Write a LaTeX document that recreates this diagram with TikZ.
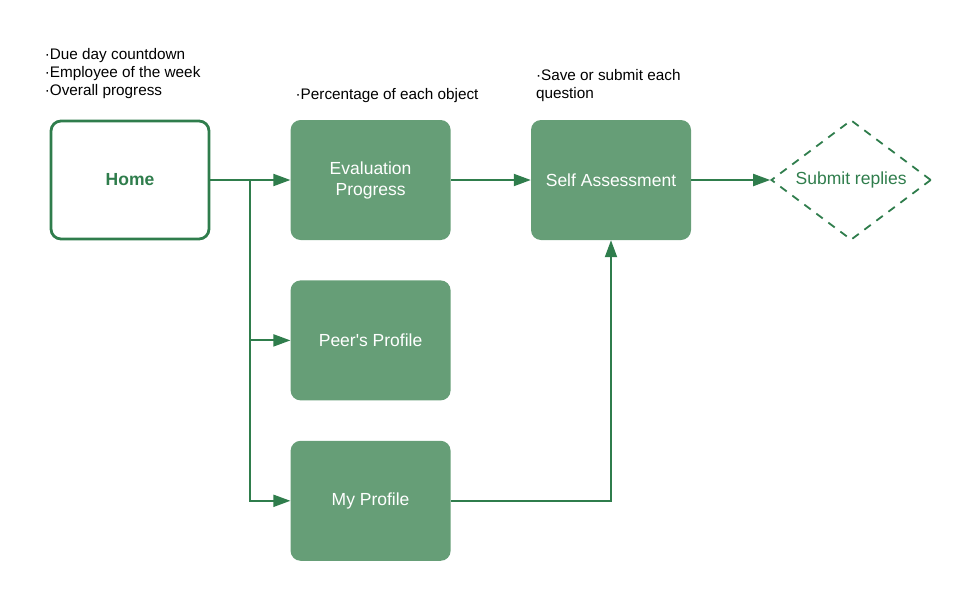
\documentclass[tikz,border=0pt]{standalone}
\usepackage{fontspec}
\setmainfont{Liberation Sans}
\usetikzlibrary{arrows.meta,positioning,shapes.geometric}

\definecolor{boxgreen}{HTML}{669E77}
\definecolor{linegreen}{HTML}{2F7D4C}

\tikzset{
  page/.style={box, fill=boxgreen, text=white},
  box/.style={rectangle, rounded corners=10pt, minimum width=160pt, minimum height=120pt,
    align=center, font=\fontsize{17.5}{21}\selectfont},
  homebox/.style={box, draw=linegreen, line width=2.8pt, fill=white, text=linegreen,
    minimum width=158pt, minimum height=118pt, font=\fontsize{17.5}{21}\selectfont\bfseries},
  goal/.style={diamond, draw=linegreen, line width=1.8pt, dash pattern=on 8pt off 7pt,
    minimum width=160pt, minimum height=120pt, inner sep=0pt, aspect=1.33,
    text=linegreen, font=\fontsize{17.5}{21}\selectfont},
  note/.style={anchor=north west, inner sep=0pt, align=left, font=\fontsize{15.3}{18}\selectfont},
  link/.style={draw=linegreen, line width=1.9pt, -{Triangle[length=17pt,width=12pt]}},
}

\begin{document}
\begin{tikzpicture}[x=1pt, y=-1pt, node distance=40pt and 80pt]
    \useasboundingbox (0,0) rectangle (970,600);
    \node[homebox] (home) at (130,180) {Home};
    \node[page, right=of home] (eval) {Evaluation\\Progress};
    \node[page, below=of eval] (peer) {Peer\textquotesingle s Profile};
    \node[page, below=of peer] (mine) {My Profile};
    \node[page, right=of eval] (self) {Self Assessment};
    \node[goal, right=79pt of self] (submit) {Submit replies};
    % notes above the boxes
    \node[note] (homenote) at ([xshift=-5pt, yshift=71pt]home.north west)
      {·Due day countdown\\·Employee of the week\\·Overall progress};
    \node[note] (evalnote) at ([xshift=5pt, yshift=32pt]eval.north west)
      {·Percentage of each object};
    \node[note] (selfnote) at ([xshift=5pt, yshift=51pt]self.north west)
      {·Save or submit each\\question};
    % connectors
    \draw[link] (home) -- (eval);
    \draw[link, -] (home.east) -- ++(40,0) coordinate (split);
    \draw[link] (split) |- (peer);
    \draw[link] (split) |- (mine);
    \draw[link] (eval) -- (self);
    \draw[link] (self) -- (submit);
    \draw[link] (mine) -| (self);
\end{tikzpicture}
\end{document}
